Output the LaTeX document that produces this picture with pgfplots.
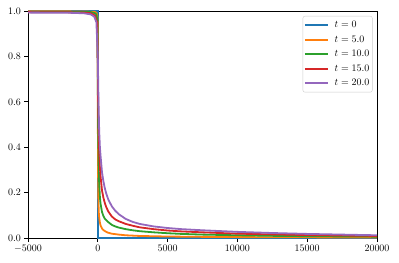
\documentclass[border=0pt]{standalone}
\usepackage{pgfplots}
\pgfplotsset{compat=1.18}
\definecolor{c0}{HTML}{1F77B4}
\definecolor{c1}{HTML}{FF7F0E}
\definecolor{c2}{HTML}{2CA02C}
\definecolor{c3}{HTML}{D62728}
\definecolor{c4}{HTML}{9467BD}
\begin{document}
\begin{tikzpicture}
\begin{axis}[
  scale only axis,
  width=349bp, height=227bp,
  xmin=-5000, xmax=20000, ymin=0, ymax=1,
  xtick={-5000,0,5000,10000,15000,20000},
  ytick={0,0.2,0.4,0.6,0.8,1.0},
  scaled ticks=false,
  xticklabel style={/pgf/number format/1000 sep={}},
  yticklabel style={/pgf/number format/.cd, fixed, fixed zerofill, precision=1},
  tick align=outside,
  major tick length=3.5bp,
  tick style={black, line width=0.8bp},
  axis line style={black, line width=0.8bp},
  xtick pos=lower, ytick pos=left,
  legend cell align=left,
  legend style={at={(1,1)}, anchor=north east, xshift=-4.5bp, yshift=-5bp,
    draw=black!20, rounded corners=2bp, font=\normalsize,
    inner xsep=1bp, inner ysep=3.5bp, row sep=3.5bp, column sep=4bp,
    nodes={inner xsep=2bp, inner ysep=1bp, text height=7bp, text depth=2bp}},
  legend image code/.code={\draw[mark repeat=2,mark phase=2,#1] plot coordinates {(0bp,0bp) (11.5bp,0bp) (23bp,0bp)};},
  every axis plot/.append style={line width=1.8bp},
]
\addplot[c0] coordinates {(-5000,1) (0,1) (0,0) (20000,0)};
\addlegendentry{$t = 0$}
\addplot[c1] coordinates {
(-5000,0.999) (-1000,0.998) (-200,0.996) (-80,0.99) (-30,0.975) (-10,0.95) (0,0.6) (10,0.4) (20,0.3) (35,0.2) (50,0.15) (75,0.11) (100,0.09) (150,0.068) (200,0.055) (300,0.042) (400,0.035) (550,0.029) (700,0.024) (1000,0.019) (1500,0.015) (2000,0.012) (3000,0.009) (5000,0.0065) (7500,0.005) (10000,0.004) (15000,0.003) (20000,0.002)};
\addlegendentry{$t = 5.0$}
\addplot[c2] coordinates {
(-5000,0.997) (-1000,0.996) (-500,0.995) (-200,0.99) (-100,0.985) (-30,0.96) (0,0.7) (15,0.55) (30,0.45) (60,0.32) (100,0.24) (150,0.18) (200,0.15) (300,0.115) (400,0.097) (500,0.085) (750,0.07) (1000,0.058) (1250,0.051) (1500,0.046) (2000,0.039) (2500,0.034) (3000,0.03) (4000,0.025) (5000,0.021) (6000,0.018) (7500,0.015) (10000,0.012) (12500,0.0095) (15000,0.008) (20000,0.006)};
\addlegendentry{$t = 10.0$}
\addplot[c3] coordinates {
(-5000,0.995) (-2000,0.994) (-1000,0.993) (-500,0.99) (-200,0.98) (-50,0.95) (0,0.75) (25,0.6) (50,0.5) (100,0.38) (150,0.31) (200,0.27) (300,0.21) (400,0.178) (500,0.155) (600,0.137) (750,0.117) (1000,0.095) (1250,0.082) (1500,0.074) (2000,0.062) (2500,0.054) (3000,0.047) (4000,0.039) (5000,0.033) (6000,0.029) (7500,0.025) (10000,0.019) (12500,0.016) (15000,0.013) (20000,0.009)};
\addlegendentry{$t = 15.0$}
\addplot[c4] coordinates {
(-5000,0.993) (-2000,0.992) (-1000,0.99) (-500,0.985) (-250,0.975) (-100,0.95) (0,0.8) (50,0.6) (100,0.47) (150,0.4) (200,0.36) (300,0.29) (400,0.25) (500,0.22) (600,0.197) (750,0.17) (1000,0.14) (1250,0.12) (1500,0.105) (2000,0.084) (2500,0.071) (3000,0.062) (4000,0.051) (5000,0.044) (6000,0.039) (7500,0.034) (10000,0.027) (12500,0.022) (15000,0.018) (20000,0.012)};
\addlegendentry{$t = 20.0$}
\end{axis}
\path[use as bounding box] ([xshift=-28bp,yshift=-25bp]current axis.south west) rectangle ([xshift=22bp,yshift=11bp]current axis.north east);
\end{tikzpicture}
\end{document}
